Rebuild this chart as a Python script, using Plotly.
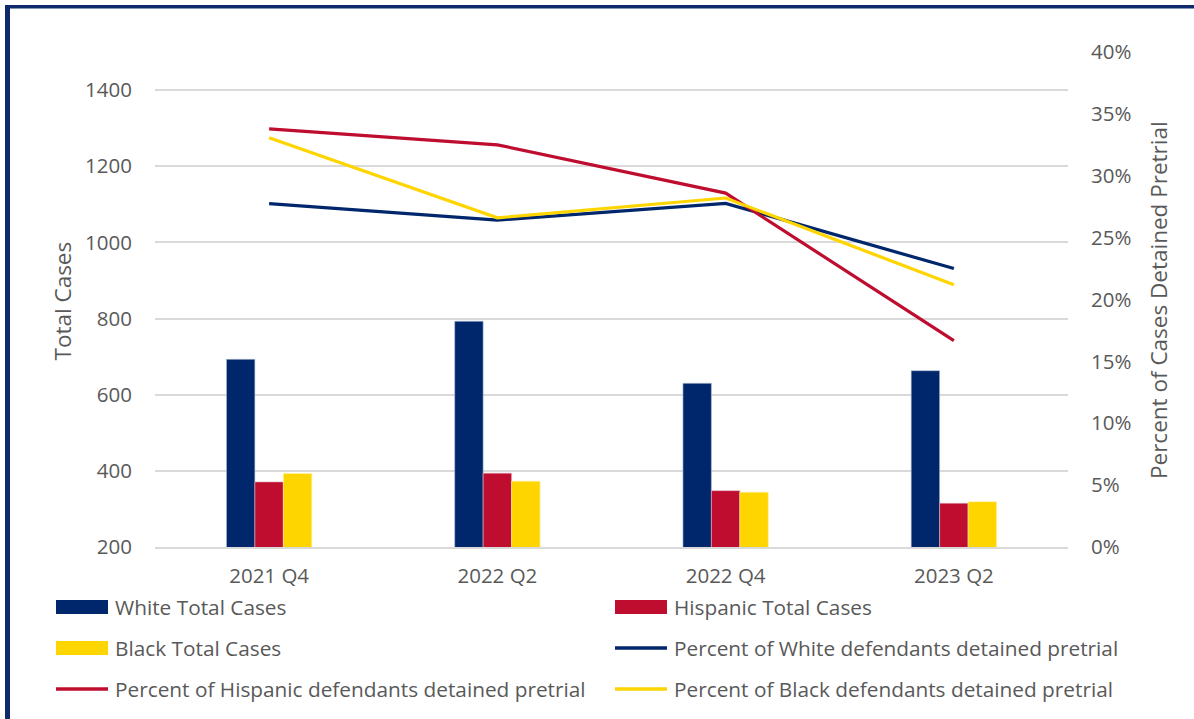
import plotly.graph_objects as go

categories = ["2021 Q4", "2022 Q2", "2022 Q4", "2023 Q2"]
white_cases = [693, 793, 630, 663]
hispanic_cases = [371, 394, 348, 315]
black_cases = [393, 373, 344, 319]
white_pct = [0.2774, 0.2642, 0.2777, 0.2250]
hispanic_pct = [0.3378, 0.3250, 0.2860, 0.1667]
black_pct = [0.3308, 0.2660, 0.2820, 0.2120]

NAVY = "#00266b"
RED = "#bf0d2f"
YELLOW = "#ffd500"
GRAY = "#595959"
FONT = "Open Sans"
TICK_SIZE = 20.5
LEGEND_SIZE = 20.8
TITLE_SIZE = 22.5

W, H = 1194, 719
L, R, T, B = 155, 1068, 52, 547


def px(x):
    return (x - L) / (R - L)


def py(y):
    return (B - y) / (B - T)


fig = go.Figure()
fig.add_trace(go.Bar(x=categories, y=white_cases, name="White Total Cases",
                     marker=dict(color=NAVY, line=dict(color="#b9c4d6", width=0.6))))
fig.add_trace(go.Bar(x=categories, y=hispanic_cases, name="Hispanic Total Cases",
                     marker=dict(color=RED, line=dict(color="#e3b5bf", width=0.6))))
fig.add_trace(go.Bar(x=categories, y=black_cases, name="Black Total Cases",
                     marker=dict(color=YELLOW, line=dict(color="#fff2a8", width=0.6))))
fig.add_trace(go.Scatter(x=categories, y=white_pct, name="Percent of White defendants detained pretrial",
                         mode="lines", line=dict(color=NAVY, width=3.2), yaxis="y2"))
fig.add_trace(go.Scatter(x=categories, y=hispanic_pct, name="Percent of Hispanic defendants detained pretrial",
                         mode="lines", line=dict(color=RED, width=3.2), yaxis="y2"))
fig.add_trace(go.Scatter(x=categories, y=black_pct, name="Percent of Black defendants detained pretrial",
                         mode="lines", line=dict(color=YELLOW, width=3.2), yaxis="y2"))

fig.update_layout(
    width=W, height=H,
    margin=dict(l=L, r=W - R, t=T, b=H - B),
    paper_bgcolor="white", plot_bgcolor="white",
    barmode="group", bargap=0.626, bargroupgap=0,
    showlegend=False,
    font=dict(family=FONT, size=TICK_SIZE, color=GRAY),
    xaxis=dict(showgrid=False, showline=True, linecolor="#d9d9d9", linewidth=2,
               ticks="", ticklabelstandoff=9, tickfont=dict(size=TICK_SIZE, color=GRAY)),
    yaxis=dict(range=[200, 1500], tickvals=[200, 400, 600, 800, 1000, 1200, 1400],
               showgrid=True, gridcolor="#d9d9d9", gridwidth=1.5, zeroline=False,
               showline=False, ticks="", ticklabelstandoff=22,
               tickfont=dict(size=TICK_SIZE, color=GRAY)),
    yaxis2=dict(range=[0, 0.40], dtick=0.05, tickformat=".0%", overlaying="y", side="right",
                showgrid=False, zeroline=False, showline=False, ticks="", ticklabelstandoff=22,
                tickfont=dict(size=TICK_SIZE, color=GRAY)),
)

shapes = []
annotations = []

# outer frame (partial border of the figure box)
shapes.append(dict(type="rect", xref="paper", yref="paper", x0=px(5), x1=px(10), y0=py(725), y1=py(5),
                   fillcolor="#0e2a6b", line=dict(width=0), layer="above"))
shapes.append(dict(type="rect", xref="paper", yref="paper", x0=px(5), x1=px(1200), y0=py(8.5), y1=py(5),
                   fillcolor="#0e2a6b", line=dict(width=0), layer="above"))

# axis titles
annotations.append(dict(xref="paper", yref="paper", x=px(61.5), y=py(301), text="Total Cases",
                        textangle=-90, showarrow=False, xanchor="center", yanchor="middle",
                        font=dict(size=TITLE_SIZE, color=GRAY, family=FONT)))
annotations.append(dict(xref="paper", yref="paper", x=px(1158), y=py(300),
                        text="Percent of Cases Detained Pretrial",
                        textangle=-90, showarrow=False, xanchor="center", yanchor="middle",
                        font=dict(size=TITLE_SIZE, color=GRAY, family=FONT)))

# legend (two columns)
legend_items = [
    ("White Total Cases", NAVY, "bar", 56, 607),
    ("Hispanic Total Cases", RED, "bar", 615, 607),
    ("Black Total Cases", YELLOW, "bar", 56, 648),
    ("Percent of White defendants detained pretrial", NAVY, "line", 615, 648),
    ("Percent of Hispanic defendants detained pretrial", RED, "line", 56, 689),
    ("Percent of Black defendants detained pretrial", YELLOW, "line", 615, 689),
]
for text, color, kind, x0, yc in legend_items:
    if kind == "bar":
        shapes.append(dict(type="rect", xref="paper", yref="paper", x0=px(x0), x1=px(x0 + 52),
                           y0=py(yc + 7), y1=py(yc - 7), fillcolor=color, line=dict(width=0)))
    else:
        shapes.append(dict(type="line", xref="paper", yref="paper", x0=px(x0), x1=px(x0 + 52),
                           y0=py(yc), y1=py(yc), line=dict(color=color, width=3.4)))
    annotations.append(dict(xref="paper", yref="paper", x=px(x0 + 57), y=py(yc), text=text,
                            showarrow=False, xanchor="left", yanchor="middle",
                            font=dict(size=LEGEND_SIZE, color=GRAY, family=FONT)))

fig.update_layout(shapes=shapes, annotations=annotations)
fig.write_html("out.html", config={"displayModeBar": False})

# remove the browser's default page margin so the figure sits at the window origin
with open("out.html", "r", encoding="utf-8") as f:
    html = f.read()
html = html.replace("<body>", '<body style="margin:0;padding:0;">', 1)
with open("out.html", "w", encoding="utf-8") as f:
    f.write(html)
